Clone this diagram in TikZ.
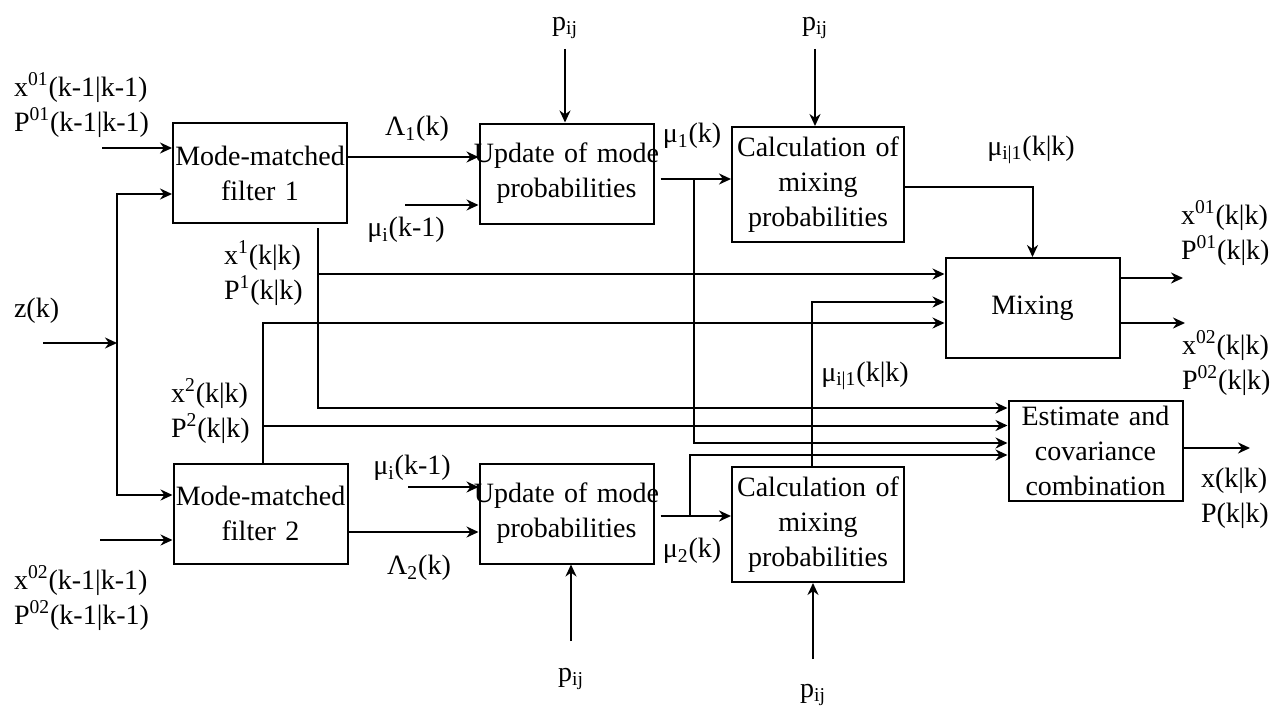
\documentclass[tikz,border=0pt]{standalone}
\usepackage{fontspec}
\setmainfont{Liberation Serif}
\usepackage{tikz}
\usetikzlibrary{positioning,calc,arrows.meta}
\tikzstyle{block} = [draw, rectangle, inner sep=0pt, align=center, text width=87pt, minimum height=50pt]
\tikzstyle{tblock} = [block, text width=86pt, minimum height=57.5pt]
\tikzstyle{lbl} = [inner sep=0pt, align=left]

\begin{document}
\begin{tikzpicture}[x=0.5pt, y=-0.5pt, line width=1pt, >={Stealth[length=6pt,width=5.5pt]}, font=\fontsize{14}{17.5}\selectfont]
		\useasboundingbox (0,0) rectangle (1276,707);
		\node [block] (mmf1) at (260,173) {Mode-matched\\filter 1};
		\node [block] (upd1) at (566.5,173.5) {\makebox[\linewidth]{Update of mode}\\probabilities};
		\node [tblock] (calc1) at (818,184.5) {Calculation of\\mixing\\probabilities};
		\node [block] (mix) at (1032.5,308) {Mixing};
		\node [block] (est) at (1095.5,450.5) {Estimate and\\covariance\\combination};
		\node [block] (mmf2) at (260.5,513.5) {Mode-matched\\filter 2};
		\node [block] (upd2) at (566.5,513.5) {\makebox[\linewidth]{Update of mode}\\probabilities};
		\node [tblock] (calc2) at (818,524.5) {Calculation of\\mixing\\probabilities};
		
		\node [lbl, anchor=west] (in1l) at (13,105) {x\textsuperscript{01}(k-1|k-1)\\P\textsuperscript{01}(k-1|k-1)};
		\node [lbl, anchor=west] (zl) at (13,311) {z(k)};
		\node [lbl, anchor=west] (in2l) at (13,598) {x\textsuperscript{02}(k-1|k-1)\\P\textsuperscript{02}(k-1|k-1)};
		\node [lbl] (pt1) at (565,28) {p\textsubscript{ij}};
		\node [lbl] (pt2) at (815,28) {p\textsubscript{ij}};
		\node [lbl] (pb1) at (571,679) {p\textsubscript{ij}};
		\node [lbl] (pb2) at (813,695) {p\textsubscript{ij}};
		\node [lbl] (lam1) at (417,129) {Λ\textsubscript{1}(k)};
		\node [lbl] (lam2) at (419,568) {Λ\textsubscript{2}(k)};
		\node [lbl] (mui1) at (406,230) {μ\textsubscript{i}(k-1)};
		\node [lbl] (mui2) at (412,468) {μ\textsubscript{i}(k-1)};
		\node [lbl] (mu1) at (692,136) {μ\textsubscript{1}(k)};
		\node [lbl] (mu2) at (692,551) {μ\textsubscript{2}(k)};
		\node [lbl] (mix1l) at (1031,150) {μ\textsubscript{i|1}(k|k)};
		\node [lbl] (mix2l) at (865,376) {μ\textsubscript{i|1}(k|k)};
		\node [lbl, anchor=west] (f1l) at (223,273) {x\textsuperscript{1}(k|k)\\P\textsuperscript{1}(k|k)};
		\node [lbl, anchor=west] (f2l) at (170,411) {x\textsuperscript{2}(k|k)\\P\textsuperscript{2}(k|k)};
		\node [lbl, anchor=west] (out1l) at (1180,233) {x\textsuperscript{01}(k|k)\\P\textsuperscript{01}(k|k)};
		\node [lbl, anchor=west] (out2l) at (1181,363) {x\textsuperscript{02}(k|k)\\P\textsuperscript{02}(k|k)};
		\node [lbl, anchor=west] (outl) at (1200,498) {x(k|k)\\P(k|k)};
		
		\coordinate (in1) at (102,148);
		\coordinate (in2) at (100,540);
		\coordinate (zin) at (43,343);
		\coordinate (zs) at (117,343);
		\coordinate (muin1) at (405,205);
		\coordinate (muin2) at (408,487);
		\coordinate (o1) at (1183,278);
		\coordinate (o2) at (1185,323);
		\coordinate (oe) at (1250,448);
		
		% filter inputs
		\draw [->] (in1) -- (in1 -| mmf1.west);
		\draw [->] (in2) -- (in2 -| mmf2.west);
		\draw [->] (zin) -- (zs);
		\draw [->] (zs) |- ($(mmf1.west)+(0,21)$);
		\draw [->] (zs) |- ($(mmf2.west)+(0,-18.5)$);
		% likelihoods and mode probabilities
		\draw [->] ($(mmf1.east)+(0,-16)$) coordinate (l1) -- (l1 -| upd1.west);
		\draw [->] ($(mmf2.east)+(0,18.5)$) coordinate (l2) -- (l2 -| upd2.west);
		\draw [->] (muin1) -- (muin1 -| upd1.west);
		\draw [->] (muin2) -- (muin2 -| upd2.west);
		\draw [->, shorten <=4.5pt] (pt1) -- (pt1 |- upd1.north);
		\draw [->, shorten <=4.5pt] (pt2) -- (pt2 |- calc1.north);
		\draw [->, shorten <=13pt] (pb1) -- (pb1 |- upd2.south);
		\draw [->, shorten <=12pt] (pb2) -- (pb2 |- calc2.south);
		\draw [->] ($(upd1.east)+(6,5.5)$) coordinate (m1) -- (m1 -| calc1.west);
		\draw [->] ($(upd2.east)+(6,2.5)$) coordinate (m2) -- (m2 -| calc2.west);
		\draw [->] ($(m1)+(33,0)$) |- ($(est.west)+(0,-7.5)$);
		\draw [->] ($(m2)+(29,0)$) |- ($(est.west)+(0,4.5)$);
		% mixing probabilities
		\draw [->] ($(calc1.east)+(0,2.5)$) -| (mix.north);
		\draw [->] ($(calc2.north)+(-6,0)$) |- ($(mix.west)+(0,-6)$);
		% filter estimates
		\draw [->] ($(mmf1.south)+(58,4)$) |- ($(est.west)+(0,-42.5)$);
		\draw [->] ($(mmf1.south)+(58,50)$) coordinate (f1) -- (f1 -| mix.west);
		\draw [->] ($(mmf2.north)+(2.5,0)$) |- ($(mix.west)+(0,15)$);
		\draw [->] ($(mmf2.north)+(2.5,-37)$) coordinate (f2) -- (f2 -| est.west);
		% outputs
		\draw [->] (o1 -| mix.east) -- (o1);
		\draw [->] (o2 -| mix.east) -- (o2);
		\draw [->] (oe -| est.east) -- (oe);
	\end{tikzpicture}
\end{document}
